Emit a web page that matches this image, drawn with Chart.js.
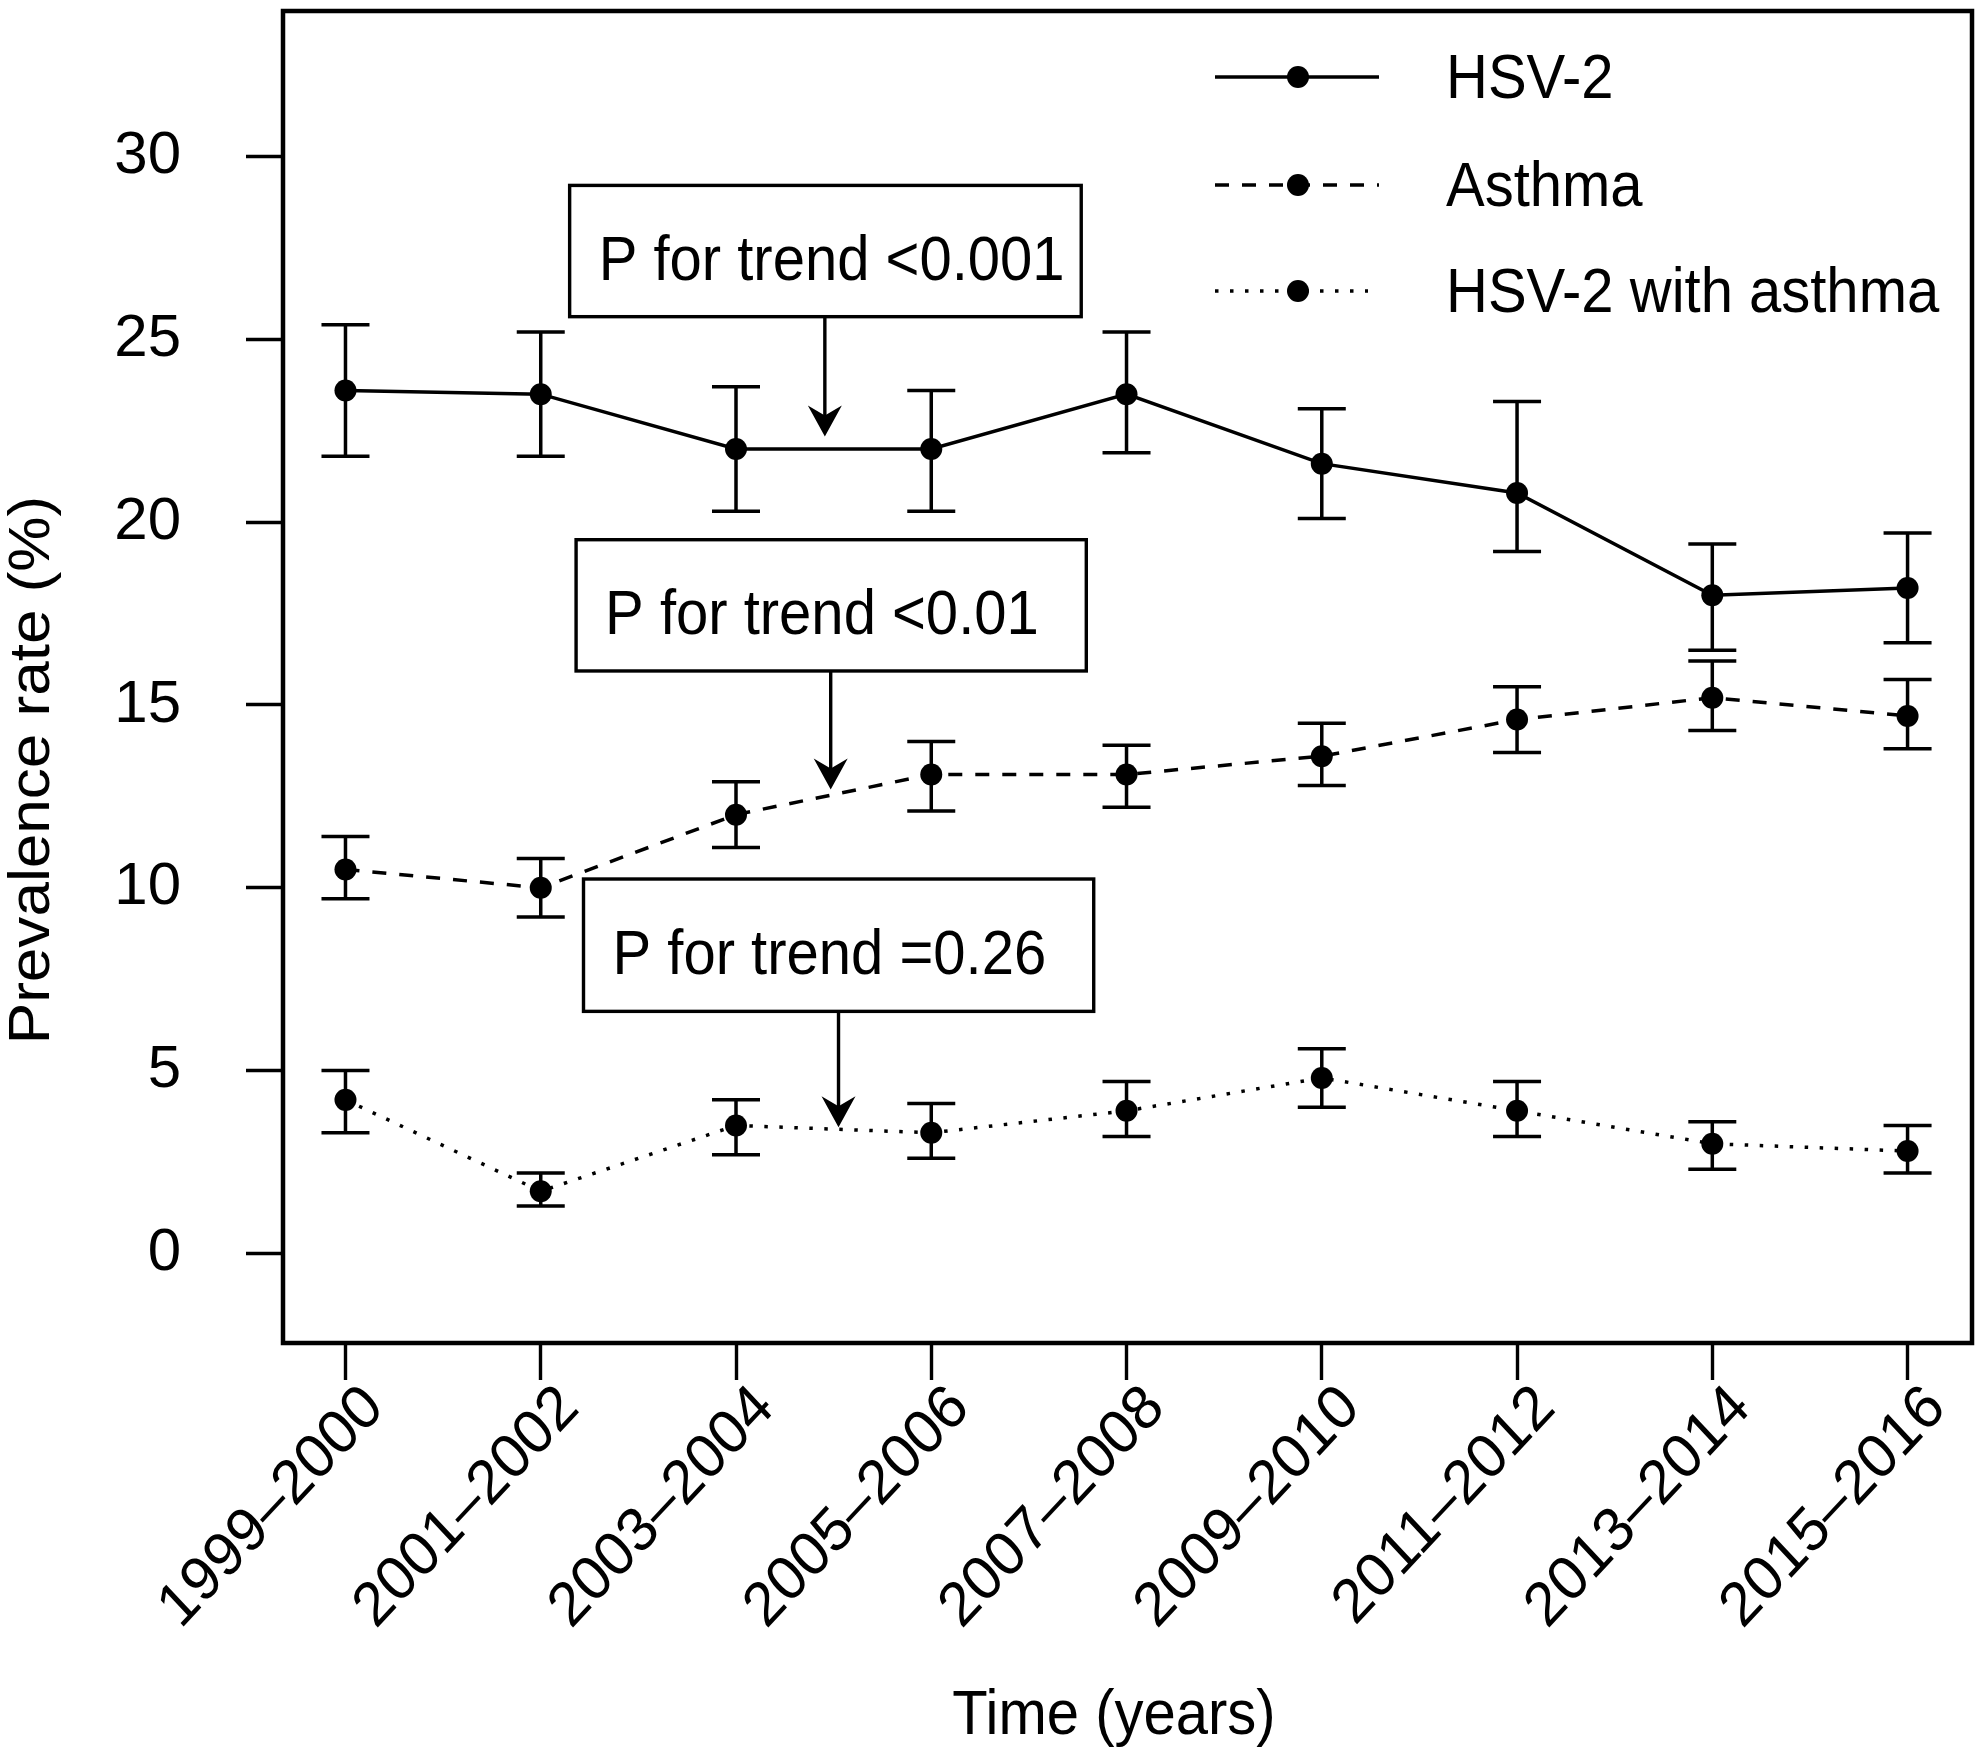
<!DOCTYPE html>
<html>
<head>
<meta charset="utf-8">
<script src="https://cdn.jsdelivr.net/npm/chart.js@4.4.1/dist/chart.umd.min.js"></script>
<style>
  html, body { margin: 0; padding: 0; background: #fff; }
  #wrap { width: 1983px; height: 1748px; }
</style>
</head>
<body>
<div id="wrap"><canvas id="prevChart" width="1983" height="1748"></canvas></div>
<script>
// Survey cycles
const categories = ['1999–2000', '2001–2002', '2003–2004', '2005–2006', '2007–2008',
                    '2009–2010', '2011–2012', '2013–2014', '2015–2016'];

// Prevalence (%) with error bar limits
const hsv2      = [23.6, 23.5, 22.0, 22.0, 23.5, 21.6, 20.8, 18.0, 18.2];
const hsv2Low   = [21.8, 21.8, 20.3, 20.3, 21.9, 20.1, 19.2, 16.5, 16.7];
const hsv2High  = [25.4, 25.2, 23.7, 23.6, 25.2, 23.1, 23.3, 19.4, 19.7];

const asthma     = [10.5, 10.0, 12.0, 13.1, 13.1, 13.6, 14.6, 15.2, 14.7];
const asthmaLow  = [9.7, 9.2, 11.1, 12.1, 12.2, 12.8, 13.7, 14.3, 13.8];
const asthmaHigh = [11.4, 10.8, 12.9, 14.0, 13.9, 14.5, 15.5, 16.2, 15.7];

const both     = [4.2, 1.7, 3.5, 3.3, 3.9, 4.8, 3.9, 3.0, 2.8];
const bothLow  = [3.3, 1.3, 2.7, 2.6, 3.2, 4.0, 3.2, 2.3, 2.2];
const bothHigh = [5.0, 2.2, 4.2, 4.1, 4.7, 5.6, 4.7, 3.6, 3.5];

const yTicks = [0, 5, 10, 15, 20, 25, 30];

const seriesNames = ['HSV-2', 'Asthma', 'HSV-2 with asthma'];
const trendTexts = ['P for trend <0.001', 'P for trend <0.01', 'P for trend =0.26'];

const FONT = '"Liberation Sans", Arial, Helvetica, sans-serif';
const FS = 58;
const SY = 1.07;   // the source figure is slightly stretched vertically
const LW = 3.5;
const DASHES = [[], [14, 13], [3.5, 11.5]];

// annotation boxes in data units (x index, y value)
const boxes = [
    { x1: 1.148, x2: 3.768, yTop: 29.21, yBot: 25.62, ax: 2.455, tip: 22.34 },
    { x1: 1.181, x2: 3.794, yTop: 19.52, yBot: 15.93, ax: 2.485, tip: 12.69 },
    { x1: 1.219, x2: 3.832, yTop: 10.24, yBot: 6.62, ax: 2.525, tip: 3.45 }
];

function toPoints(arr) {
    return arr.map((v, i) => ({ x: i, y: v }));
}

function makeSet(label, values, dash) {
    return {
        label: label,
        data: toPoints(values),
        showLine: true,
        borderColor: '#000',
        backgroundColor: '#000',
        borderWidth: LW,
        borderDash: dash,
        pointRadius: 11,
        pointHoverRadius: 11,
        pointBackgroundColor: '#000',
        pointBorderWidth: 0,
        tension: 0
    };
}

function drawText(ctx, text, x, y, rot, align, baseline) {
    ctx.save();
    ctx.translate(x, y);
    ctx.scale(1, SY);
    if (rot) ctx.rotate(rot);
    ctx.textAlign = align;
    ctx.textBaseline = baseline;
    ctx.fillText(text, 0, 0);
    ctx.restore();
}

const errorSets = [
    [hsv2Low, hsv2High],
    [asthmaLow, asthmaHigh],
    [bothLow, bothHigh]
];

// error bars + frame + annotations + legend + titles
const decorPlugin = {
    id: 'decor',
    beforeDatasetsDraw(chart) {
        const ctx = chart.ctx;
        const xs = chart.scales.x, ys = chart.scales.y;
        ctx.save();
        ctx.strokeStyle = '#000';
        ctx.lineWidth = LW;
        errorSets.forEach(([lo, hi]) => {
            lo.forEach((v, i) => {
                const px = xs.getPixelForValue(i);
                const y1 = ys.getPixelForValue(v);
                const y2 = ys.getPixelForValue(hi[i]);
                ctx.beginPath();
                ctx.moveTo(px, y1); ctx.lineTo(px, y2);
                ctx.moveTo(px - 24, y1); ctx.lineTo(px + 24, y1);
                ctx.moveTo(px - 24, y2); ctx.lineTo(px + 24, y2);
                ctx.stroke();
            });
        });
        ctx.restore();
    },
    afterDraw(chart) {
        const ctx = chart.ctx;
        const a = chart.chartArea;
        const xs = chart.scales.x, ys = chart.scales.y;
        ctx.save();

        // plot frame
        ctx.strokeStyle = '#000';
        ctx.lineWidth = 4.5;
        ctx.strokeRect(a.left, a.top, a.right - a.left, a.bottom - a.top);

        // trend boxes with arrows
        ctx.font = FS + 'px ' + FONT;
        ctx.fillStyle = '#000';
        boxes.forEach((b, k) => {
            const l = xs.getPixelForValue(b.x1), r = xs.getPixelForValue(b.x2);
            const t = ys.getPixelForValue(b.yTop), bt = ys.getPixelForValue(b.yBot);
            ctx.fillStyle = '#fff';
            ctx.fillRect(l, t, r - l, bt - t);
            ctx.lineWidth = 3.4;
            ctx.strokeRect(l, t, r - l, bt - t);
            ctx.fillStyle = '#000';
            drawText(ctx, trendTexts[k], l + 29, (t + bt) / 2 + 29, 0, 'left', 'alphabetic');
            const ax = xs.getPixelForValue(b.ax);
            const tip = ys.getPixelForValue(b.tip);
            ctx.beginPath();
            ctx.moveTo(ax, bt); ctx.lineTo(ax, tip - 20);
            ctx.stroke();
            ctx.beginPath();
            ctx.moveTo(ax, tip);
            ctx.lineTo(ax - 17, tip - 31);
            ctx.lineTo(ax, tip - 21);
            ctx.lineTo(ax + 17, tip - 31);
            ctx.closePath();
            ctx.fill();
        });

        // legend
        const rows = [77, 185, 291];
        seriesNames.forEach((name, k) => {
            const y = rows[k];
            ctx.lineWidth = LW;
            ctx.setLineDash(DASHES[k]);
            ctx.beginPath();
            ctx.moveTo(1215, y); ctx.lineTo(k === 2 ? 1368 : 1379, y);
            ctx.stroke();
            ctx.setLineDash([]);
            ctx.beginPath();
            ctx.arc(1298, y, 11, 0, Math.PI * 2);
            ctx.fill();
            drawText(ctx, name, 1446, y + 21, 0, 'left', 'alphabetic');
        });

        // x tick labels, rotated 45 degrees
        categories.forEach((c, i) => {
            const px = xs.getPixelForValue(i);
            drawText(ctx, c, px + 29, a.bottom + 55, -Math.PI / 4, 'right', 'middle');
        });

        // axis titles
        drawText(ctx, 'Time (years)', 1114, 1734, 0, 'center', 'alphabetic');
        drawText(ctx, 'Prevalence rate (%)', 49, 770, -Math.PI / 2, 'center', 'alphabetic');

        ctx.restore();
    }
};

const ctx = document.getElementById('prevChart').getContext('2d');
new Chart(ctx, {
    type: 'scatter',
    data: {
        datasets: [
            makeSet(seriesNames[0], hsv2, DASHES[0]),
            makeSet(seriesNames[1], asthma, DASHES[1]),
            makeSet(seriesNames[2], both, DASHES[2])
        ]
    },
    options: {
        responsive: false,
        devicePixelRatio: 1,
        animation: false,
        layout: { padding: { top: 6, right: 6, left: 0, bottom: 0 } },
        plugins: {
            legend: { display: false },
            tooltip: { enabled: false }
        },
        scales: {
            x: {
                type: 'linear',
                min: -0.32,
                max: 8.33,
                afterBuildTicks: s => { s.ticks = categories.map((c, i) => ({ value: i })); },
                afterFit: s => { s.height = 405; s.paddingLeft = 0; s.paddingRight = 0; },
                ticks: { display: false },
                border: { display: false },
                grid: {
                    display: true,
                    drawOnChartArea: false,
                    drawTicks: true,
                    tickLength: 37,
                    tickWidth: 3.4,
                    tickColor: '#000'
                }
            },
            y: {
                type: 'linear',
                min: -2.45,
                max: 33.98,
                afterBuildTicks: s => { s.ticks = yTicks.map(v => ({ value: v })); },
                afterFit: s => { s.width = 283; s.paddingTop = 0; s.paddingBottom = 0; },
                ticks: {
                    color: '#000',
                    padding: 65,
                    font: { family: FONT, size: 60 }
                },
                border: { display: false },
                grid: {
                    display: true,
                    drawOnChartArea: false,
                    drawTicks: true,
                    tickLength: 37,
                    tickWidth: 3.4,
                    tickColor: '#000'
                }
            }
        }
    },
    plugins: [decorPlugin]
});
</script>
</body>
</html>
